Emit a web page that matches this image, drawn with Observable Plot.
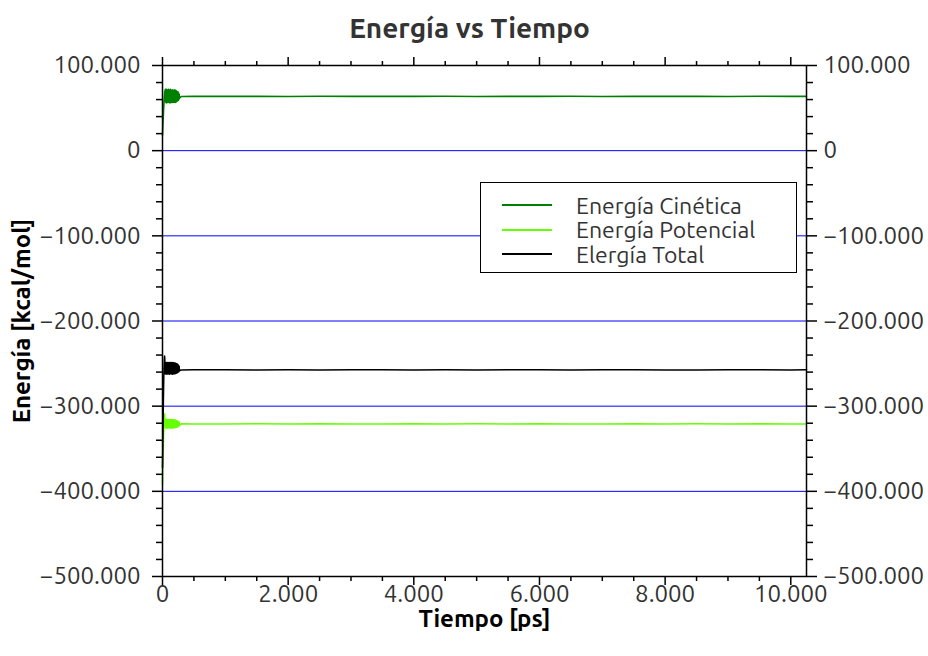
<!DOCTYPE html>
<html>
<head>
<meta charset="utf-8">
<script src="https://cdn.jsdelivr.net/npm/d3@7"></script>
<script src="https://cdn.jsdelivr.net/npm/@observablehq/plot@0.6"></script>
<style>
  body { margin: 0; background: white; }
  #wrap { position: relative; width: 928px; height: 656px; font-family: Ubuntu, "Noto Sans", sans-serif; }
  #legend { position: absolute; left: 480px; top: 182px; width: 317px; height: 91px; border: 1.5px solid #000; background: #fff; box-sizing: border-box; }
  .row { position: absolute; left: 0; height: 24px; display: flex; align-items: center; font-size: 23px; color: #333; white-space: nowrap; }
  .sw { width: 50px; height: 2px; margin-left: 21px; margin-right: 24px; }
</style>
</head>
<body>
<div id="wrap">
  <div id="chart"></div>
  <div id="legend"></div>
</div>
<script>
// Tiempo [ps]
const tiempo = [0,4,8,12,16,20,24,28,32,36,40,
  45,50,55,60,65,70,75,80,85,90,95,100,105,110,115,120,125,130,135,140,145,150,155,160,165,170,175,180,185,190,195,200,205,210,215,220,225,230,235,240,245,250,255,260,265,270,
  300,500,1000,1500,2000,2500,3000,3500,4000,4500,5000,5500,6000,6500,7000,7500,8000,8500,9000,9500,10000,10250];

// Energía Cinética [kcal/mol]
const cinetica = [18000,25000,32000,39000,46000,52000,57000,62000,66000,70000,61000,
  72000,57000,71500,56000,72000,57500,70500,56500,71500,57000,72000,56500,71000,57000,71500,56000,72000,57500,70500,56500,71000,57000,71500,56500,70500,57500,71000,56500,71500,57000,70500,57500,71000,56500,70500,57500,70000,58000,69500,58500,69000,59000,68000,60000,66500,61500,
  63600,63900,63700,63800,63600,63900,63700,63800,63700,63900,63600,63800,63700,63900,63600,63800,63700,63800,63600,63900,63700,63800];

// Energía Potencial [kcal/mol]
const potencial = [-392000,-378000,-362000,-348000,-336000,-325000,-317000,-311000,-309000,-313000,-324000,
  -315500,-325500,-316000,-325000,-315800,-325800,-316200,-325200,-315600,-325600,-316000,-325000,-315800,-325400,-316200,-325800,-315600,-325200,-316000,-325600,-315800,-325000,-316200,-325400,-315600,-325800,-316000,-325200,-316400,-325000,-316200,-325400,-316600,-325000,-316800,-324800,-317000,-324600,-317400,-324200,-317800,-323800,-318400,-323400,-319000,-322600,
  -320800,-321000,-320900,-320700,-321000,-320800,-320900,-321000,-320800,-320900,-320700,-321000,-320800,-320900,-321000,-320800,-320900,-320700,-321000,-320800,-320900,-320900];

// Energía Total [kcal/mol]
const total = [-372000,-352000,-328000,-305000,-285000,-268000,-255000,-246000,-241000,-243000,-262000,
  -248500,-262200,-249000,-262000,-248800,-262400,-249200,-261800,-248600,-262200,-249000,-261800,-248800,-262400,-249200,-262000,-248600,-261800,-249000,-262200,-248800,-262000,-249200,-262400,-248600,-261800,-249000,-262200,-249400,-261800,-249200,-262000,-249600,-261600,-249800,-261400,-250200,-261000,-250600,-260600,-251200,-260000,-252000,-259400,-253000,-258600,
  -257400,-257200,-257300,-257500,-257200,-257400,-257300,-257200,-257400,-257300,-257500,-257200,-257300,-257400,-257200,-257300,-257400,-257500,-257300,-257200,-257400,-257300];

const xMajor = [0,2000,4000,6000,8000,10000];
const xMinor = [500,1000,1500,2500,3000,3500,4500,5000,5500,6500,7000,7500,8500,9000,9500];
const yMajor = [-500000,-400000,-300000,-200000,-100000,0,100000];
const yMinor = [-480000,-460000,-440000,-420000,-380000,-360000,-340000,-320000,-280000,-260000,-240000,-220000,-180000,-160000,-140000,-120000,-80000,-60000,-40000,-20000,20000,40000,60000,80000];
const yGrid = [0,-100000,-200000,-300000,-400000];

const series = [
  {name: "Energía Cinética", values: cinetica, color: "#008000"},
  {name: "Energía Potencial", values: potencial, color: "#66ff00"},
  {name: "Elergía Total", values: total, color: "#000000"}
];

const rows = [];
for (const s of series) s.values.forEach((v, i) => rows.push({t: tiempo[i], v, serie: s.name}));

const fmt = d => (d < 0 ? "\u2212" : "") + String(Math.abs(d)).replace(/\B(?=(\d{3})+(?!\d))/g, ".");
const blank = () => "";
const tick = {label: null, stroke: "#000", strokeWidth: 1.5, fill: "#333"};

const chart = Plot.plot({
  width: 928,
  height: 656,
  marginTop: 65,
  marginBottom: 80,
  marginLeft: 162,
  marginRight: 122,
  style: {fontFamily: "Ubuntu, 'Noto Sans', sans-serif", fontSize: "24px", color: "#333", background: "white"},
  x: {domain: [0, 10250]},
  y: {domain: [-500000, 100000]},
  marks: [
    Plot.ruleY(yGrid, {stroke: "#0000ff", strokeWidth: 1}),
    Plot.line(rows.filter(r => r.serie === "Energía Potencial"), {x: "t", y: "v", stroke: "#66ff00", strokeWidth: 1.6}),
    Plot.line(rows.filter(r => r.serie === "Energía Cinética"), {x: "t", y: "v", stroke: "#008000", strokeWidth: 1.6}),
    Plot.line(rows.filter(r => r.serie === "Elergía Total"), {x: "t", y: "v", stroke: "#000000", strokeWidth: 1.5}),
    Plot.frame({stroke: "#000", strokeWidth: 1.5}),
    Plot.axisX({...tick, anchor: "bottom", ticks: xMajor, tickSize: 9, tickPadding: -1, tickFormat: fmt, fontSize: 24}),
    Plot.axisX({...tick, anchor: "bottom", ticks: xMinor, tickSize: 5, tickFormat: blank}),
    Plot.axisX({...tick, anchor: "top", ticks: xMajor, tickSize: 9, tickFormat: blank}),
    Plot.axisX({...tick, anchor: "top", ticks: xMinor, tickSize: 5, tickFormat: blank}),
    Plot.axisY({...tick, anchor: "left", ticks: yMajor, tickSize: 10, tickPadding: 12, tickFormat: fmt, fontSize: 24}),
    Plot.axisY({...tick, anchor: "left", ticks: yMinor, tickSize: 6, tickFormat: blank}),
    Plot.axisY({...tick, anchor: "right", ticks: yMajor, tickSize: 10, tickPadding: 7, tickFormat: fmt, fontSize: 24}),
    Plot.axisY({...tick, anchor: "right", ticks: yMinor, tickSize: 6, tickFormat: blank}),
    Plot.text(["Energía vs Tiempo"], {text: d => d, frameAnchor: "top", lineAnchor: "middle", dy: -36, dx: -15, fontSize: 28, fontWeight: "bold", fill: "#333"}),
    Plot.text(["Energía [kcal/mol]"], {text: d => d, frameAnchor: "left", textAnchor: "middle", lineAnchor: "middle", rotate: -90, dx: -140, fontSize: 24, fontWeight: "bold", fill: "#000"}),
    Plot.text(["Tiempo [ps]"], {text: d => d, frameAnchor: "bottom", lineAnchor: "middle", dy: 43, fontSize: 24, fontWeight: "bold", fill: "#000"})
  ]
});
document.getElementById("chart").appendChild(chart);

const legend = document.getElementById("legend");
series.forEach((s, i) => {
  const row = document.createElement("div");
  row.className = "row";
  row.style.top = (10 + i * 24.5) + "px";
  const sw = document.createElement("div");
  sw.className = "sw";
  sw.style.background = s.color;
  const label = document.createElement("span");
  label.textContent = s.name;
  row.appendChild(sw);
  row.appendChild(label);
  legend.appendChild(row);
});
</script>
</body>
</html>
